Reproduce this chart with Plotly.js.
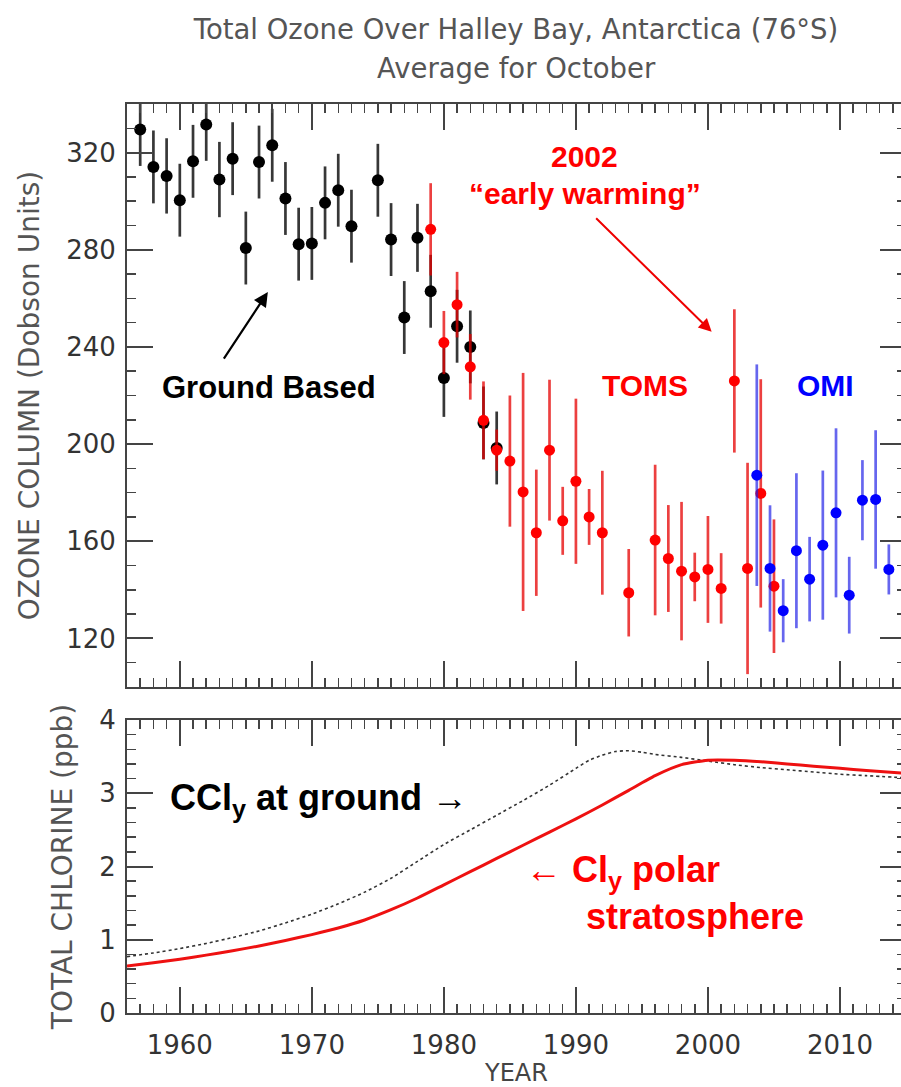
<!DOCTYPE html>
<html>
<head>
<meta charset="utf-8">
<script src="https://cdn.plot.ly/plotly-3.0.1.min.js"></script>
<style>
  html, body { margin: 0; padding: 0; overflow: hidden; background: #fff; }
  #chart { width: 915px; height: 1087px; }
</style>
</head>
<body>
<div id="chart"></div>
<script>
// October mean total ozone over Halley Bay (Dobson Units) with uncertainty
const groundYears = [1957, 1958, 1959, 1960, 1961, 1962, 1963, 1964, 1965, 1966, 1967, 1968, 1969, 1970,
                     1971, 1972, 1973, 1975, 1976, 1977, 1978, 1979, 1980, 1981, 1982, 1983, 1984];
const groundOzone = [329.5, 314.1, 310.4, 300.4, 316.4, 331.6, 308.9, 317.5, 280.7, 316.1, 323.0, 301.1, 282.3, 282.6,
                     299.3, 304.5, 289.7, 308.6, 284.2, 252.1, 284.9, 262.9, 227.2, 248.5, 240.0, 208.7, 198.4];
const groundErr   = [15, 15, 15.5, 15, 15, 15, 15.5, 15, 15, 15, 15, 15, 15, 15,
                     15, 15, 15, 15, 15, 15, 14, 15, 16, 15, 15, 15, 15];

const tomsYears = [1979, 1980, 1981, 1982, 1983, 1984, 1985, 1986, 1987, 1988, 1989, 1990, 1991, 1992,
                   1994, 1996, 1997, 1998, 1999, 2000, 2001, 2002, 2003, 2004, 2005];
const tomsOzone = [288.4, 241.8, 257.4, 231.8, 209.8, 197.5, 193.0, 180.3, 163.5, 197.5, 168.4, 184.7, 170.0, 163.5,
                   138.8, 160.5, 152.9, 147.7, 145.3, 148.4, 140.6, 226.0, 148.8, 179.7, 141.5];
const tomsErr   = [19, 13, 13.5, 13.5, 16, 8.5, 27, 49, 26, 29, 14, 34, 11.5, 25.5,
                   18, 31, 22, 28.5, 10, 22, 14.5, 29.5, 43.5, 47, 27.5];

const omiYears = [2003.7, 2004.7, 2005.7, 2006.7, 2007.7, 2008.7, 2009.7, 2010.7, 2011.7, 2012.7, 2013.7];
const omiOzone = [187.2, 148.8, 131.4, 156.1, 144.4, 158.4, 171.7, 137.8, 176.9, 177.2, 148.4];
const omiErr   = [45.6, 26, 13, 31.9, 17.4, 30.7, 34.8, 15.8, 16.5, 28.5, 10.3];

// Total chlorine (ppb): equivalent chlorine at the ground and polar stratospheric Cly
const groundClYears = [1956, 1958, 1960, 1962, 1964, 1966, 1968, 1970, 1972, 1974, 1976, 1978, 1980, 1982, 1984,
                       1986, 1988, 1990, 1991, 1992, 1993, 1994, 1995, 1996, 1998, 2000, 2002, 2004, 2006, 2008,
                       2010, 2012, 2015];
const groundCl      = [0.77, 0.82, 0.88, 0.95, 1.03, 1.12, 1.23, 1.35, 1.49, 1.65, 1.84, 2.07, 2.30, 2.50, 2.70,
                       2.90, 3.11, 3.34, 3.45, 3.52, 3.57, 3.58, 3.56, 3.53, 3.49, 3.44, 3.39, 3.35, 3.32, 3.29,
                       3.26, 3.24, 3.21];
const polarClYears  = [1956, 1958, 1960, 1962, 1964, 1966, 1968, 1970, 1972, 1974, 1976, 1978, 1980, 1982, 1984,
                       1986, 1988, 1990, 1992, 1994, 1996, 1998, 2000, 2002, 2004, 2006, 2008, 2010, 2012, 2015];
const polarCl       = [0.64, 0.685, 0.735, 0.79, 0.85, 0.915, 0.99, 1.07, 1.16, 1.27, 1.41, 1.57, 1.75, 1.93, 2.11,
                       2.29, 2.47, 2.65, 2.84, 3.04, 3.24, 3.39, 3.45, 3.45, 3.43, 3.40, 3.37, 3.34, 3.31, 3.27];

const yearTicks = [1960, 1970, 1980, 1990, 2000, 2010];

const axisGray = '#444';
const tickFont = { family: 'DejaVu Sans, sans-serif', size: 26, color: '#333' };
const titleFont = { family: 'DejaVu Sans, sans-serif', size: 28, color: '#555' };
const headFont = { family: 'DejaVu Sans, sans-serif', size: 27.5, color: '#555' };
const boldFont = (size, color) => ({ family: 'Liberation Sans, Arial, sans-serif', size: size, color: color, weight: 'bold' });

function ozoneTrace(x, y, err, color, barColor, size) {
  return {
    type: 'scatter', mode: 'markers', x: x, y: y, xaxis: 'x', yaxis: 'y',
    marker: { color: color, size: size },
    error_y: { type: 'data', array: err, visible: true, color: barColor, thickness: 2.7, width: 0 },
    hoverinfo: 'x+y', showlegend: false
  };
}

const traces = [
  ozoneTrace(groundYears, groundOzone, groundErr, '#000', 'rgba(20,20,20,0.85)', 12),
  ozoneTrace(tomsYears, tomsOzone, tomsErr, '#ff0000', 'rgba(230,0,0,0.75)', 11),
  ozoneTrace(omiYears, omiOzone, omiErr, '#0000ff', 'rgba(30,30,230,0.68)', 11),
  {
    type: 'scatter', mode: 'lines', x: groundClYears, y: groundCl, xaxis: 'x2', yaxis: 'y2',
    line: { color: '#333', width: 1.6, dash: 'dot', shape: 'spline', smoothing: 0.6 }, showlegend: false
  },
  {
    type: 'scatter', mode: 'lines', x: polarClYears, y: polarCl, xaxis: 'x2', yaxis: 'y2',
    line: { color: '#ee1111', width: 3, shape: 'spline', smoothing: 0.6 }, showlegend: false
  }
];

const xCommon = {
  range: [1956, 2015], tickvals: yearTicks, ticks: 'inside', ticklen: 26, tickwidth: 2, tickcolor: axisGray,
  minor: { dtick: 1, tick0: 1956, ticks: 'inside', ticklen: 9, tickwidth: 1.5, tickcolor: axisGray },
  showline: true, linecolor: axisGray, linewidth: 2, mirror: 'ticks', showgrid: false, zeroline: false,
  tickfont: tickFont
};

const layout = {
  width: 915, height: 1087,
  margin: { l: 127, r: 7, t: 104, b: 74 },
  paper_bgcolor: '#fff', plot_bgcolor: '#fff',
  title: {
    text: 'Total Ozone Over Halley Bay, Antarctica (76°S)',
    font: headFont,
    x: 0.4994, xanchor: 'center', xref: 'paper', y: 1 - 29 / 1087, yanchor: 'middle', yref: 'container'
  },
  xaxis: Object.assign({}, xCommon, { anchor: 'y', showticklabels: false }),
  yaxis: {
    domain: [(1013 - 687) / 909, 1], range: [100, 340], tick0: 120, dtick: 40,
    ticks: 'inside', ticklen: 26, tickwidth: 2, tickcolor: axisGray,
    minor: { dtick: 10, ticks: 'inside', ticklen: 9, tickwidth: 1.5, tickcolor: axisGray },
    showline: true, linecolor: axisGray, linewidth: 2, mirror: 'ticks', showgrid: false, zeroline: false,
    tickfont: tickFont, ticklabelstandoff: 4,
    title: { text: 'OZONE COLUMN (Dobson Units)', font: titleFont, standoff: 18 }, automargin: true
  },
  xaxis2: Object.assign({}, xCommon, {
    anchor: 'y2', ticklabelstandoff: 8,
    title: { text: 'YEAR', font: { family: 'DejaVu Sans, sans-serif', size: 24, color: '#444' }, standoff: 14 }
  }),
  yaxis2: {
    domain: [0, (1013 - 720) / 909], range: [0, 4], dtick: 1,
    ticks: 'inside', ticklen: 26, tickwidth: 2, tickcolor: axisGray,
    minor: { dtick: 0.2, ticks: 'inside', ticklen: 9, tickwidth: 1.5, tickcolor: axisGray },
    showline: true, linecolor: axisGray, linewidth: 2, mirror: 'ticks', showgrid: false, zeroline: false,
    tickfont: tickFont, ticklabelstandoff: 4,
    title: { text: 'TOTAL CHLORINE (ppb)', font: titleFont, standoff: 18 }, automargin: true
  },
  annotations: [
    { text: 'Average for October', xref: 'paper', yref: 'paper', x: 0.4994, y: 1 + (104 - 68) / 909,
      xanchor: 'center', yanchor: 'middle', showarrow: false, font: headFont },
    { text: '2002', xref: 'x', yref: 'y', x: 1990.66, y: 318.2, xanchor: 'center', yanchor: 'middle',
      showarrow: false, font: boldFont(30, '#ff0000') },
    { text: '“early warming”', xref: 'x', yref: 'y', x: 1990.66, y: 303.1, xanchor: 'center', yanchor: 'middle',
      showarrow: false, font: boldFont(30, '#ff0000') },
    { text: '', xref: 'x', yref: 'y', x: 2000.28, y: 246.2, ax: -117, ay: -115,
      showarrow: true, arrowhead: 2, arrowsize: 1.3, arrowwidth: 2, arrowcolor: '#ee0000' },
    { text: 'Ground Based', xref: 'x', yref: 'y', x: 1966.72, y: 223.2, xanchor: 'center', yanchor: 'middle',
      showarrow: false, font: boldFont(31, '#000') },
    { text: '', xref: 'x', yref: 'y', x: 1966.67, y: 262.6, ax: -45, ay: 68,
      showarrow: true, arrowhead: 2, arrowsize: 1.3, arrowwidth: 2.2, arrowcolor: '#000' },
    { text: 'TOMS', xref: 'x', yref: 'y', x: 1995.2, y: 224.2, xanchor: 'center', yanchor: 'middle',
      showarrow: false, font: boldFont(30, '#ff0000') },
    { text: 'OMI', xref: 'x', yref: 'y', x: 2008.9, y: 224.2, xanchor: 'center', yanchor: 'middle',
      showarrow: false, font: boldFont(30, '#0000ff') },
    { text: 'CCl<sub>y</sub> at ground →', xref: 'x2', yref: 'y2', x: 1959.1, y: 2.91, xanchor: 'left', yanchor: 'middle',
      showarrow: false, font: boldFont(36, '#000') },
    { text: '← Cl<sub>y</sub> polar', xref: 'x2', yref: 'y2', x: 1986.06, y: 1.93, xanchor: 'left', yanchor: 'middle',
      showarrow: false, font: boldFont(36, '#ff0000') },
    { text: 'stratosphere', xref: 'x2', yref: 'y2', x: 1990.6, y: 1.32, xanchor: 'left', yanchor: 'middle',
      showarrow: false, font: boldFont(36, '#ff0000') }
  ]
};

Plotly.newPlot('chart', traces, layout, { displayModeBar: false, staticPlot: true });
</script>
</body>
</html>
